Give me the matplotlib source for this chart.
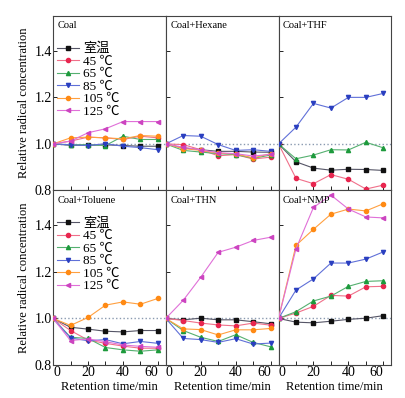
import numpy as np
import matplotlib.pyplot as plt

plt.rcParams['font.family'] = ['Liberation Serif', 'Noto Sans CJK SC']
plt.rcParams['mathtext.fontset'] = 'stix'

t = [0, 10, 20, 30, 40, 50, 60]
labels = ['室温', '45 ℃', '65 ℃', '85 ℃', '105 ℃', '125 ℃']
titles = ['Coal', 'Coal+Hexane', 'Coal+THF', 'Coal+Toluene', 'Coal+THN', 'Coal+NMP']

# 每个面板: 室温, 45, 65, 85, 105, 125 (None = 没有数据)
coal = [
    [1.0, 0.994, 0.994, 0.996, 0.993, 0.990, 0.990],
    [1.0, 1.012, 1.029, 1.026, 1.019, 1.033, 1.026],
    [1.0, 0.996, 0.997, 0.993, 1.033, 1.019, 1.019],
    [1.0, 0.996, 0.993, 1.001, 0.990, 0.984, 0.975],
    [1.0, 1.026, 1.029, 1.026, 1.022, 1.036, 1.033],
    [1.0, 1.012, 1.048, 1.065, 1.096, 1.096, 1.096],
]
hexane = [
    [1.0, 0.983, 0.975, 0.968, 0.968, 0.965, 0.964],
    [1.0, 0.997, 0.975, 0.949, 0.954, 0.935, 0.943],
    [1.0, 0.972, 0.965, 0.958, 0.954, 0.938, 0.952],
    [1.0, 1.036, 1.033, 0.997, 0.972, 0.975, 0.968],
    [1.0, 0.980, 0.972, 0.960, 0.957, 0.940, 0.958],
    [1.0, 0.985, 0.975, 0.962, 0.958, 0.948, 0.955],
]
thf = [
    [1.0, 0.923, 0.896, 0.887, 0.891, 0.890, 0.886],
    [1.0, 0.852, 0.829, 0.868, 0.848, 0.806, 0.823],
    [1.0, 0.936, 0.952, 0.975, 0.974, 1.007, 0.983],
    [1.0, 1.072, 1.174, 1.154, 1.200, 1.200, 1.217],
    None,
    None,
]
toluene = [
    [1.0, 0.962, 0.954, 0.945, 0.942, 0.948, 0.948],
    [1.0, 0.948, 0.907, 0.893, 0.881, 0.872, 0.872],
    [1.0, 0.919, 0.914, 0.875, 0.865, 0.859, 0.865],
    [1.0, 0.916, 0.904, 0.909, 0.891, 0.901, 0.893],
    [1.0, 0.970, 1.004, 1.057, 1.071, 1.061, 1.086],
    [1.0, 0.905, 0.912, 0.900, 0.886, 0.880, 0.876],
]
thn = [
    [1.0, 0.994, 1.001, 0.994, 0.994, 0.986, 0.977],
    [1.0, 0.991, 0.980, 0.972, 0.968, 0.980, 0.971],
    [1.0, 0.948, 0.919, 0.901, 0.930, 0.897, 0.878],
    [1.0, 0.914, 0.909, 0.897, 0.913, 0.890, 0.894],
    [1.0, 0.955, 0.952, 0.929, 0.951, 0.951, 0.957],
    [1.0, 1.078, 1.177, 1.284, 1.306, 1.335, 1.349],
]
nmp = [
    [1.0, 0.984, 0.981, 0.988, 0.996, 1.001, 1.012],
    [1.0, 1.023, 1.052, 1.099, 1.096, 1.136, 1.138],
    [1.0, 1.029, 1.075, 1.096, 1.138, 1.159, 1.162],
    [1.0, 1.122, 1.170, 1.238, 1.238, 1.255, 1.286],
    [1.0, 1.314, 1.383, 1.448, 1.470, 1.462, 1.493],
    [1.0, 1.299, 1.477, 1.530, 1.470, 1.436, 1.432],
]
panels = [coal, hexane, thf, toluene, thn, nmp]

mk_colors = ['#111111', '#e8264f', '#1d9a3c', '#2a3fc0', '#ff8a14', '#cc44c0']
ln_colors = ['#555566', '#f0708a', '#55b070', '#6070d8', '#ffa040', '#e070d8']
markers = ['s', 'o', '^', 'v', 'o', '<']

fig, axes = plt.subplots(2, 3, figsize=(4.05, 3.98), dpi=100, sharex=True, sharey=True)
fig.subplots_adjust(left=0.131, right=0.966, top=0.96, bottom=0.083, wspace=0, hspace=0)

for k, ax in enumerate(axes.flat):
    ax.axhline(1.0, color='#8a9ab0', ls=':', lw=1.0, zorder=1)
    for i, y in enumerate(panels[k]):
        if y is None:
            continue
        ax.plot(t, y, color=ln_colors[i], lw=0.8, marker=markers[i], ms=3,
                mfc=mk_colors[i], mec=mk_colors[i], label=labels[i], zorder=3)
    ax.text(0.04, 0.97, titles[k], transform=ax.transAxes, fontsize=7.5,
            va='top', ha='left')
    ax.set_xlim(0, 64.5)
    ax.set_ylim(0.8, 1.55)
    ax.set_xticks([0, 20, 40, 60])
    ax.set_xticks([10, 30, 50], minor=True)
    ax.set_yticks([0.8, 1.0, 1.2, 1.4])
    ax.tick_params(which='both', direction='in', length=3, width=0.6,
                   labelsize=10, pad=1)
    for s in ax.spines.values():
        s.set_color('#444444')
        s.set_linewidth(0.8)
    if k in (0, 3):
        ax.legend(loc='upper left', bbox_to_anchor=(0.0, 0.87), frameon=False,
                  fontsize=9.5, handlelength=1.7, labelspacing=0.02,
                  handletextpad=0.3, borderpad=0.2, borderaxespad=0.1)
        ax.set_ylabel('Relative radical concentration', fontsize=9, labelpad=3)
    if k >= 3:
        ax.set_xlabel('Retention time/min', fontsize=9, labelpad=1)

fig.canvas.draw()
for k, ax in enumerate(axes[1]):
    tl = ax.get_xticklabels()
    tl[-1].set_horizontalalignment('right')
    tl[0].set_horizontalalignment('left')

fig.savefig('out.png', dpi=100)
